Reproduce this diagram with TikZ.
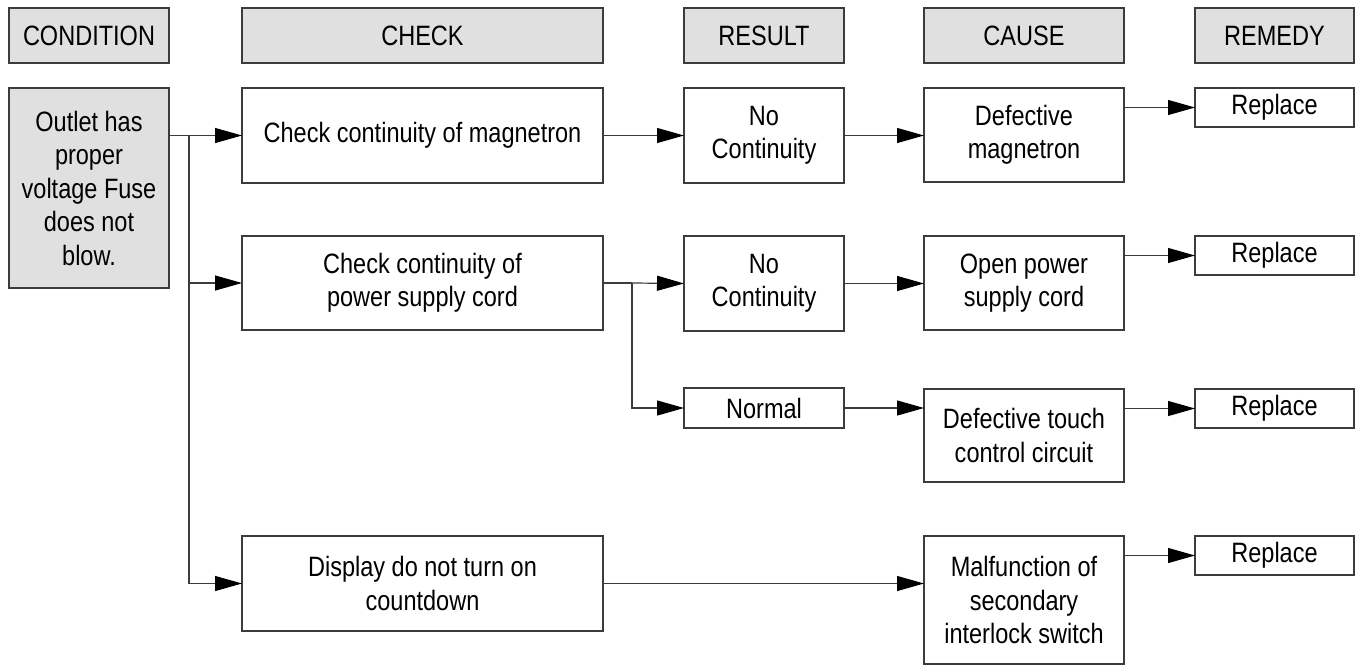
\documentclass[tikz,border=0pt]{standalone}
\usepackage{fontspec}
\setmainfont{Liberation Sans}[FakeStretch=0.84]
\usetikzlibrary{arrows.meta}
\definecolor{boxline}{HTML}{3C3C3C}
\definecolor{headfill}{HTML}{E0E0E0}

\begin{document}
\begin{tikzpicture}[x=1pt,y=-1pt,
  box/.style={draw=boxline,line width=1.2pt,align=center,inner sep=0pt,outer sep=0pt,font=\fontsize{28}{33.5}\selectfont},
  head/.style={box,fill=headfill,minimum height=55pt},
  condcol/.style={minimum width=160pt},
  checkcol/.style={minimum width=361pt},
  resultcol/.style={minimum width=160pt},
  causecol/.style={minimum width=200pt},
  remedycol/.style={minimum width=159pt,minimum height=39pt},
  conn/.style={boxline,line width=1.2pt,-{Triangle[length=27pt,width=15pt,color=black]}},
  wire/.style={boxline,line width=1.2pt}]
\useasboundingbox (0,0) rectangle (1356,666);
\node[head,condcol] (hCond) at (89,35.5) {CONDITION};
\node[head,checkcol] (hCheck) at (422.5,35.5) {CHECK};
\node[head,resultcol] (hResult) at (764,35.5) {RESULT};
\node[head,causecol] (hCause) at (1024,35.5) {CAUSE};
\node[head,remedycol,minimum height=55pt] (hRemedy) at (1274.5,35.5) {REMEDY};

\node[box,condcol,fill=headfill,minimum height=200pt] (cond) at (89,188) {Outlet has\\proper\\voltage Fuse\\does not\\blow.};

\node[box,checkcol,minimum height=95pt] (chk1) at (422.5,135.5) {Check continuity of magnetron};
\node[box,checkcol,minimum height=94pt] (chk2) at (422.5,283) {Check continuity of\\power supply cord};
\node[box,checkcol,minimum height=95pt] (chk3) at (422.5,583.5) {Display do not turn on\\countdown};

\node[box,resultcol,minimum height=95pt] (res1) at (764,135.5) {No\\Continuity};
\node[box,resultcol,minimum height=95pt] (res2) at (764,283.5) {No\\Continuity};
\node[box,resultcol,minimum height=40pt] (normal) at (764,408) {Normal};

\node[box,causecol,minimum height=94pt] (cau1) at (1024,135) {Defective\\magnetron};
\node[box,causecol,minimum height=94pt] (cau2) at (1024,283) {Open power\\supply cord};
\node[box,causecol,minimum height=93pt] (cau3) at (1024,435.5) {Defective touch\\control circuit};
\node[box,causecol,minimum height=128pt] (cau4) at (1024,600) {Malfunction of\\secondary\\interlock switch};

\node[box,remedycol] (rep1) at (1274.5,107.5) {Replace};
\node[box,remedycol] (rep2) at (1274.5,255.5) {Replace};
\node[box,remedycol] (rep3) at (1274.5,408.5) {Replace};
\node[box,remedycol] (rep4) at (1274.5,555.5) {Replace};

\coordinate (split) at (189,135.5);
\coordinate (split2) at (632,283);
\draw[wire] (cond.east |- chk1.west) -- (split);
\draw[conn] (split) -- (chk1.west);
\draw[conn] (split) |- (chk2.west);
\draw[conn] (split) |- (chk3.west);
\draw[conn] (chk1.east) -- (res1.west);
\draw[wire] (chk2.east) -- (split2);
\draw[conn] (split2) -- (res2.west);
\draw[conn] (split2) |- (normal.west);
\draw[conn] (res1.east) -- (res1.east -| cau1.west);
\draw[conn] (res2.east) -- (res2.east -| cau2.west);
\draw[conn] (normal.east) -- (normal.east -| cau3.west);
\draw[conn] (chk3.east) -- (chk3.east -| cau4.west);
\draw[conn] (rep1.west -| cau1.east) -- (rep1.west);
\draw[conn] (rep2.west -| cau2.east) -- (rep2.west);
\draw[conn] (rep3.west -| cau3.east) -- (rep3.west);
\draw[conn] (rep4.west -| cau4.east) -- (rep4.west);
\end{tikzpicture}
\end{document}
